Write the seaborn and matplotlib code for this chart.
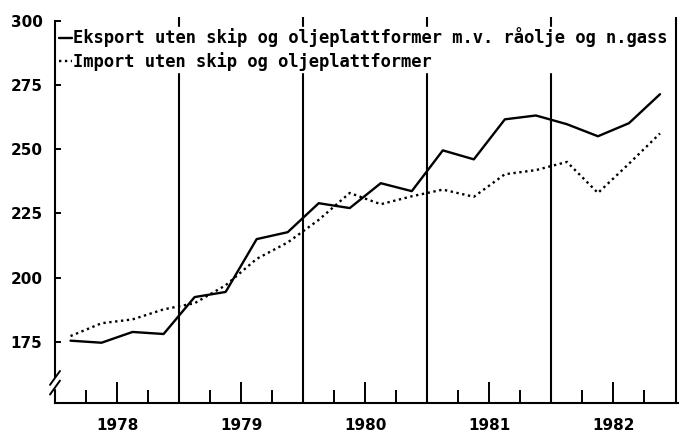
import numpy as np
import pandas as pd
import matplotlib
matplotlib.use("Agg")
import matplotlib.pyplot as plt
import seaborn as sns

# quarterly values, 1978Q1 - 1982Q4
years = [1978, 1979, 1980, 1981, 1982]
eksport = [175.4, 174.6, 178.8, 178.0,
           192.4, 194.4, 215.0, 217.7,
           229.0, 227.1, 236.8, 233.7,
           249.6, 246.1, 261.7, 263.2,
           259.8, 255.1, 260.2, 271.5]
importv = [177.2, 182.2, 183.7, 187.6,
           190.0, 197.0, 207.3, 213.7,
           222.5, 233.0, 228.6, 231.7,
           234.3, 231.5, 240.3, 241.9,
           245.1, 233.0, 244.4, 256.2]
y_ticks = [175, 200, 225, 250, 275, 300]

lab_eks = "Eksport uten skip og oljeplattformer m.v. råolje og n.gass"
lab_imp = "Import uten skip og oljeplattformer"

# place each quarter in the middle of its quarter
tid = [y + (q + 0.5) / 4 for y in years for q in range(4)]
df = pd.DataFrame({"tid": tid, "eksport": eksport, "import": importv})

sns.set_style("ticks")
plt.rcParams["font.family"] = ["DejaVu Sans"]
plt.rcParams["text.color"] = "black"
plt.rcParams["xtick.color"] = "black"
plt.rcParams["ytick.color"] = "black"

fig = plt.figure(figsize=(6.8, 4.36), dpi=100)
ax = fig.add_axes([55/680, 33/436, 623/680, 386/436])

sns.lineplot(data=df, x="tid", y="eksport", ax=ax, color="black", lw=1.7,
             label=lab_eks)
sns.lineplot(data=df, x="tid", y="import", ax=ax, color="black", lw=1.7,
             linestyle=(0, (1, 1.5)), label=lab_imp)

# full height lines at year boundaries
for y in years:
    ax.axvline(y + 1, color="black", lw=1.5, zorder=1)

ax.set_xlim(1978, 1983.02)
ax.set_ylim(151.1, 301.6)

ax.set_xticks([y + 0.5 for y in years])
ax.set_xticklabels([str(y) for y in years])
ax.set_xticks([y + d for y in years for d in (0.25, 0.75)], minor=True)
ax.tick_params(axis="x", which="major", direction="in", length=15, width=1.4,
               labelsize=11, pad=11, bottom=True, top=False)
ax.tick_params(axis="x", which="minor", direction="in", length=9.5, width=1.4,
               bottom=True, top=False)
ax.set_yticks(y_ticks)
ax.tick_params(axis="y", direction="in", length=4.5, width=1.4, labelsize=11,
               pad=9, left=True, right=False)
for t in ax.get_xticklabels() + ax.get_yticklabels():
    t.set_fontweight("bold")

ax.set_xlabel("")
ax.set_ylabel("")
for s in ("top", "right"):
    ax.spines[s].set_visible(False)
ax.spines["left"].set_bounds(151.1, 300)
for s in ("left", "bottom"):
    ax.spines[s].set_linewidth(1.5)
    ax.spines[s].set_color("black")

# axis break on the y axis
ax.add_patch(plt.Rectangle((-0.01, 0.04), 0.02, 0.025, transform=ax.transAxes,
                           color="white", clip_on=False, zorder=5))
for dy in (0.04, 0.065):
    ax.plot([-0.008, 0.008], [dy - 0.018, dy + 0.018], transform=ax.transAxes,
            color="black", lw=1.4, clip_on=False, zorder=6)

leg = ax.legend(loc="upper left", bbox_to_anchor=(0.005, 0.975),
                prop={"family": "DejaVu Sans Mono", "size": 12.3,
                      "weight": "bold"},
                handlelength=0.75, handletextpad=0.05, labelspacing=0.28,
                borderaxespad=0, borderpad=0.05, frameon=True, fancybox=False,
                framealpha=1, edgecolor="white", facecolor="white")
for t in leg.get_texts():
    t.set_color("black")
leg.set_zorder(10)

fig.savefig("out.png", dpi=100)
